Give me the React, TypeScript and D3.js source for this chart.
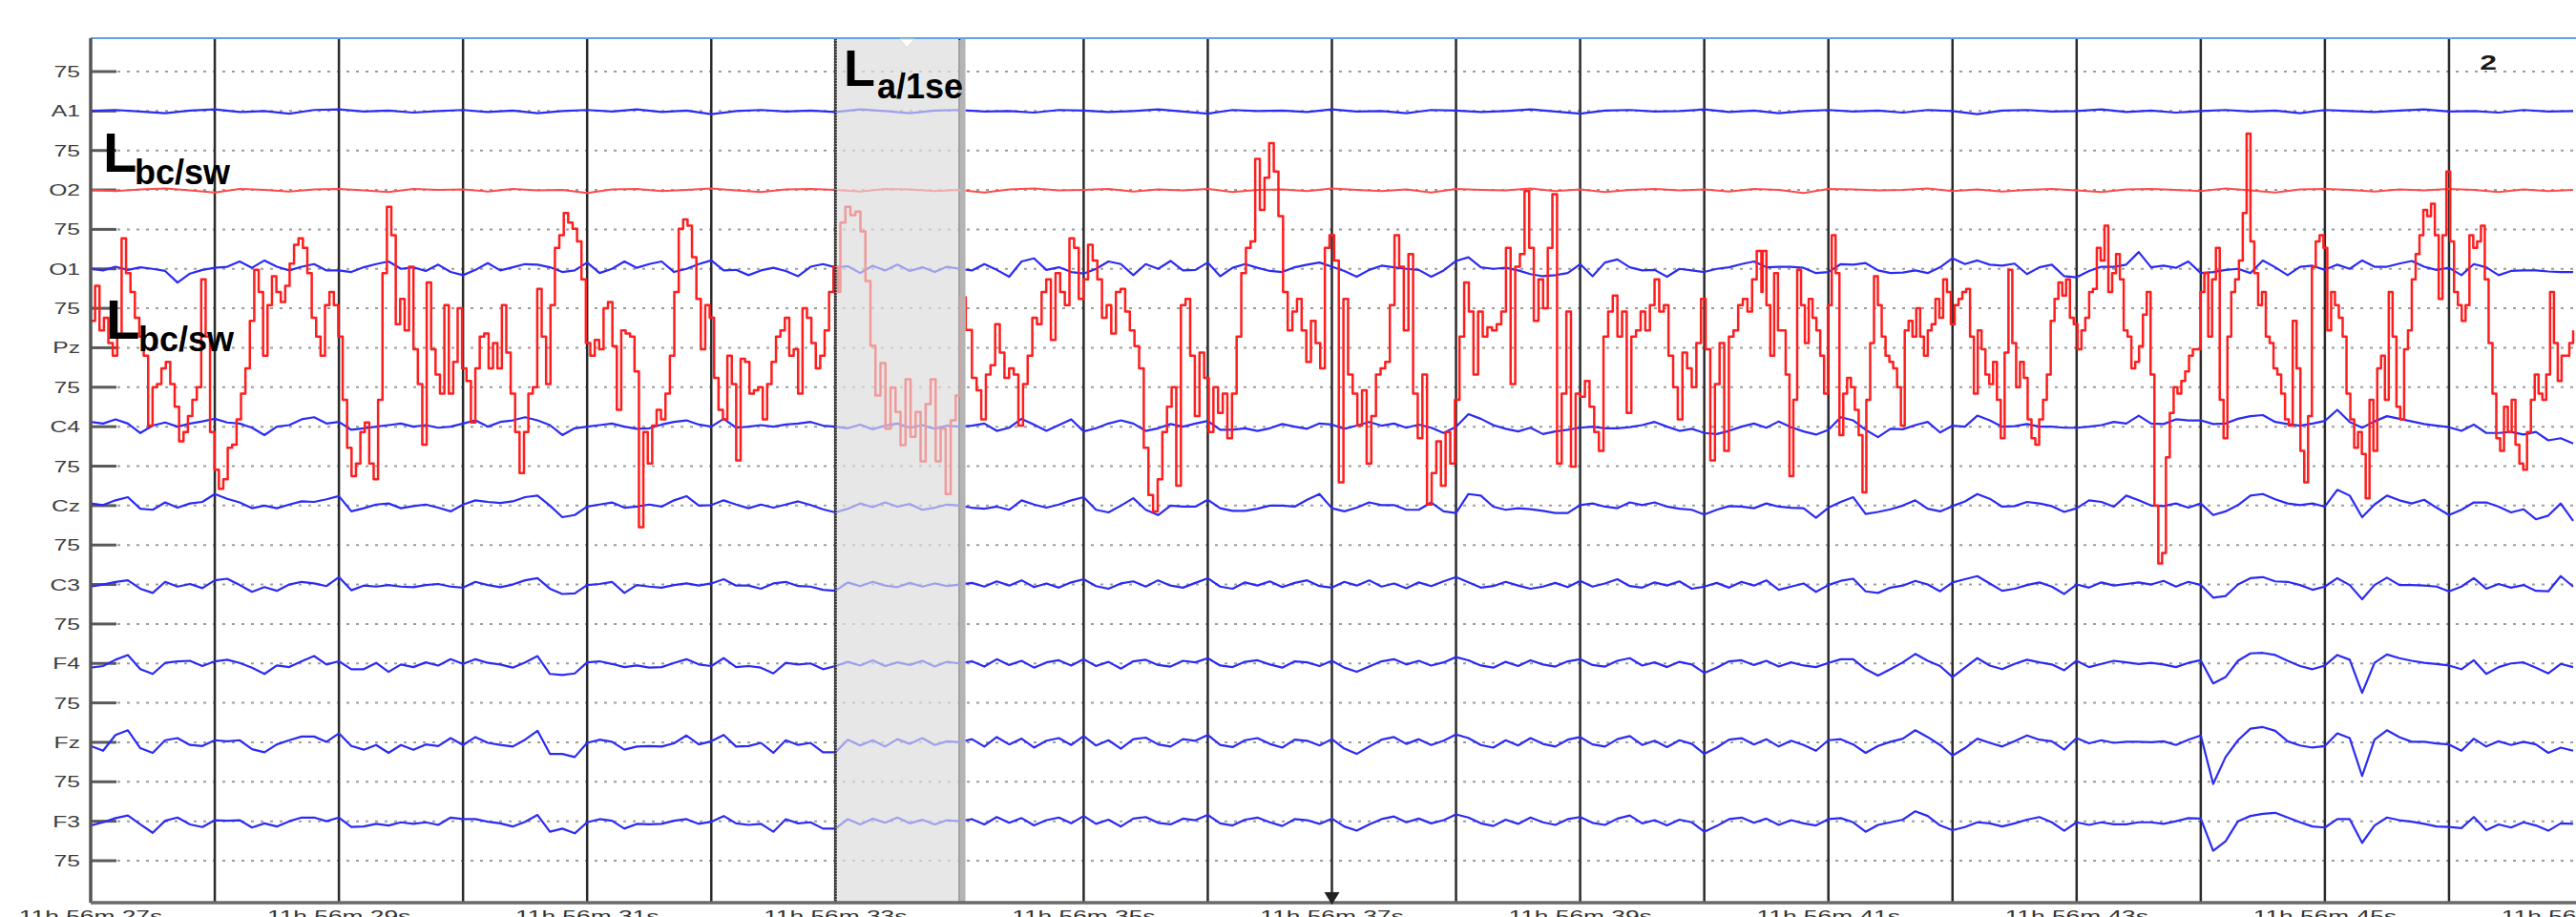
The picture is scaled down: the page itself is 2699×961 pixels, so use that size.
import React, { useRef, useEffect } from "react";
import * as d3 from "d3";

// montage rows, top to bottom (every other row is the 75 uV scale mark)
const rowLabels = ["75", "A1", "75", "O2", "75", "O1", "75", "Pz", "75", "C4", "75", "Cz", "75", "C3", "75", "F4", "75", "Fz", "75", "F3", "75"];
const timeLabels = [27, 29, 31, 33, 35, 37, 39, 41, 43, 45, 47];
const secondMarks = [28, 29, 30, 31, 32, 33, 34, 35, 36, 37, 38, 39, 40, 41, 42, 43, 44, 45, 46];
const artefactSpan = [33, 34.05];

// low gain reference channels, 5 samples / s from 27 s
const a1 = [0, 2, -1, -4, 1, 3, -2, 0, -5, 2, 3, -1, 1, -3, 0, 2, -2, 1, -4, 0, 2, -1, 3, -2, 1, -6, 0, 2, -1, 1, -2, 3, 0, -4, 1, 2, -1, 0, -3, 2, 1, -2, 0, 3, -1, -5, 2, 0, 1, -2, 3, -1, 0, -4, 2, 1, -2, 0, 3, -1, -5, 1, 2, -1, 0, 3, -2, 1, -4, 0, 2, -1, 1, -3, 2, 0, -6, 1, 2, -1, 0, 3, -2, 1, -3, 0, 2, -1, 1, -4, 2, 0, -2, 1, 3, -1, 0, -3, 2, -1, 0];
const o2 = [0, -2, 1, 3, -1, -5, 2, 0, -3, 1, 2, -1, -4, 2, 0, 1, -3, 2, -1, 0, -6, 1, 2, -2, 0, 3, -1, -4, 1, 2, 0, -3, 2, 1, -2, 0, -5, 1, 3, -1, 0, 2, -3, 1, -1, 2, -4, 0, 1, -2, 3, 0, -2, 1, -5, 2, 0, -1, 3, -2, 1, -4, 0, 2, -1, 1, -3, 2, 0, -6, 2, 1, -1, 0, 3, -2, 1, -3, 0, 2, -1, -4, 1, 2, 0, -2, 3, -1, -5, 1, 2, 0, -3, 1, -1, 2, 0, -4, 1, -2, 0];

// 10 samples / s from 27 s, uV
const o1 = [
  0, -3, 4, -2, 3, 0, -4, -26, -9, -2, 2, 4, 14, 2, 16, 4, -3, 4, 9, -3,
  -3, -6, 3, 9, 14, 0, 3, -4, 8, -6, -12, -2, 11, -3, 3, 9, 8, 3, -6, -3,
  12, -8, 0, 14, 2, 9, 14, -6, 0, 9, 16, -3, -2, -12, -3, 2, -4, -14, 4, 9,
  3, 5, -8, 6, -3, 8, -4, 3, -6, 4, 0, -3, 9, -2, -15, 14, 20, -2, 3, -6,
  -9, 0, 14, 9, -12, 9, 0, 15, -3, -2, 12, -14, 2, 9, 2, -4, -6, 3, 8, 12,
  4, -4, -15, -2, 6, 3, 0, -2, -15, -3, 15, 22, 3, 0, 2, -3, -10, -14, -12, -8,
  9, -14, 12, 18, 3, -3, -2, -15, 0, -3, -6, 0, 3, 9, 14, 3, 4, 4, 2, -8,
  -6, 9, 8, 11, -3, -8, -7, -3, -8, 3, 20, 9, 16, 8, 6, 10, -10, 3, 8, -14,
  -16, -4, 4, 4, 8, 32, 3, 6, 2, 14, -8, -6, -2, 0, -8, 16, 3, -12, 4, 6,
  -2, 8, 0, 16, 4, 4, 10, 15, 4, -2, 2, -12, 9, 3, -12, -4, -3, -3, -5, -6, -6];
const c4 = [
  9, 6, 14, 6, -12, 2, 8, 0, 6, 10, 15, 8, 6, -2, -16, 0, 3, 14, 18, 6,
  9, -6, -3, 0, 3, 6, 0, 3, -2, 0, 6, 12, 0, 9, 12, 18, 12, 3, -16, -3,
  0, 3, 6, 0, -4, -3, 4, 9, 12, 4, 0, 15, -2, 0, 3, 0, 4, 6, 9, 2,
  0, -3, 4, -5, 2, 6, -2, 3, -4, 2, 0, 2, 6, -8, -2, 15, 4, -8, 3, 14,
  -9, -3, 6, 12, 6, -8, -3, 5, 0, 6, 11, -6, -6, -3, -8, -3, 5, 0, -4, 6,
  4, -4, 2, 9, 2, 6, -2, 4, -2, -12, 0, 24, 15, 3, -4, -9, -2, -14, -9, -6,
  -2, 0, -3, -3, -1, 3, 9, 0, -8, -4, -12, -14, -8, 0, 6, -2, 10, -1, -9, -15,
  -6, 18, 12, -6, -20, -4, -5, 3, 9, -11, 2, 0, 21, 12, 0, 1, 5, 0, 0, -2,
  -2, 0, 3, 9, 6, 21, 6, 5, 14, 12, 12, 5, 6, 15, 20, 22, 9, 5, 2, 6,
  11, 32, 9, -2, 10, 20, 15, 10, 5, 2, -1, -8, 4, -12, -12, -10, -15, -10, -26, -22, -32];
const cz = [
  4, 1, 10, 16, -6, -8, 6, -4, 4, 7, 22, 13, 6, -5, 0, -5, 2, 8, 7, 12,
  18, -11, -5, 2, 4, -5, -1, 2, -4, -11, 2, 10, 7, 5, 8, 16, 19, 0, -22, -18,
  -2, 2, 6, -4, -2, 2, -2, 10, 18, 0, 1, 10, 2, -5, 2, -4, 2, 8, 1, -7,
  -13, -6, 4, -3, 6, -2, 3, -8, -4, 2, 0, -4, -6, -2, -8, 10, 2, -4, 2, 10,
  16, -8, -13, 0, 14, -8, -18, 0, -2, -2, 11, -5, -10, -10, -6, 0, 0, -2, 11, 22,
  -5, -11, -4, 6, 1, 1, -8, -8, 6, -11, -14, 22, 19, -2, -8, -5, -7, -10, -14, -14,
  1, 4, -2, -5, 6, 1, 6, -2, -6, -8, -17, -8, -1, -2, -5, 4, -2, -4, -5, -23,
  -4, 7, 16, -16, -12, -7, 0, 10, -6, -11, -1, 8, 22, 13, -2, -1, 7, 4, -1, -12,
  -5, 10, 7, -2, 19, 10, 0, -1, 4, -4, 4, -18, -11, 1, 19, 22, 12, 4, 1, 4,
  -2, 30, 19, -22, 2, 19, 10, 4, 11, -4, -18, -8, 6, 6, -2, -13, -7, -26, -19, 4, -29];
const c3 = [
  -4, 0, 5, 8, -8, -16, 5, -4, 1, -7, 8, 11, -1, -14, -5, -12, 0, 5, 2, -3,
  14, -11, -2, -4, -1, -4, -5, -1, 1, -4, -6, 5, -1, -5, 0, 8, 12, -8, -18, -17,
  -1, 1, 5, -16, -1, -4, -6, -1, 2, -2, 2, 10, -2, -2, -8, 2, 5, -3, -4, -10,
  -12, 4, -3, 5, -2, -5, 3, -4, 2, -3, 0, 3, -4, 6, -2, 8, -5, 2, -6, 4,
  10, -3, -8, 2, 6, -4, 8, -2, -6, 3, 12, -4, -8, 4, -2, 6, -5, 3, 8, -3,
  -6, 5, -2, 8, -4, 2, -7, 4, -3, 6, 14, 4, -6, -3, 5, -2, -8, -4, 3, -5,
  7, -4, 2, 10, -3, -6, 4, -2, 6, -8, -4, 3, -6, 5, -2, 8, -10, -4, 2, -14,
  -1, 7, 11, -13, -16, -6, -2, 7, 0, -13, 4, 10, 16, 2, -12, -8, -1, 4, -4, -18,
  0, -6, 4, -2, 1, 4, 0, 7, -4, 5, -1, -25, -22, 0, 12, 14, 6, 5, -1, -10,
  -4, 12, -1, -28, -1, 13, -1, -1, -2, -4, -13, -4, 12, -8, 1, -6, -1, -12, -13, 16, -4];
const f4 = [
  -8, -5, 7, 16, -11, -20, 1, 4, 5, -5, 4, 7, 1, -8, -20, -4, -7, 4, 14, -2,
  4, -11, -11, 1, -16, -2, -7, 2, -4, 8, -1, 8, 1, -2, -8, 2, 14, -20, -22, -19,
  2, 4, -1, -7, -4, -8, -7, 1, 8, -2, -5, 10, -7, -5, -8, -19, 1, -2, 0, -11,
  -5, 3, -4, 6, -5, 2, -3, 5, -6, 3, 0, 4, -6, 8, -3, 5, -8, 2, 6, -4,
  8, -5, 3, -10, 4, 7, -3, -6, 5, 2, 10, -4, -7, 3, 6, -2, -8, 4, 2, -5,
  5, -8, -16, -6, 4, 8, -2, 5, -4, 2, 12, 6, -4, -8, 3, -5, 6, -2, -6, 4,
  8, -3, -6, 5, 10, -4, 2, -7, 3, -2, -18, -8, 4, 6, -3, 5, -6, 2, -4, -7,
  1, 8, 8, -11, -23, -11, 2, 18, 5, -5, -26, -8, 10, -4, -11, -1, 7, 2, -2, -13,
  5, -7, -1, 5, 2, -1, 1, -2, -7, 1, 6, -38, -26, 5, 19, 20, 16, 5, -5, -11,
  -4, 16, 7, -56, 1, 17, 10, 5, 1, -1, -4, -11, 6, -20, -7, 0, 2, -8, -19, -1, -7];
const fz = [
  -7, -16, 14, 23, -11, -20, 4, 8, -5, -7, 4, 2, 4, -13, -19, -4, 4, 11, 11, 1,
  17, -7, -14, -5, -20, -5, -14, -4, -7, 8, -5, 10, -1, -5, -8, 5, 22, -22, -22, -28,
  -1, 5, 1, -14, -8, -7, -8, -2, 13, -4, 2, 14, -8, -7, -1, -20, 4, -5, -1, -19,
  -19, 5, -6, 4, -8, 6, -3, 8, -5, 2, 0, 6, -8, 10, -4, 7, -10, 3, 8, -5,
  12, -6, 4, -12, 6, 9, -4, -8, 6, 3, 14, -5, -9, 4, 8, -3, -10, 5, 3, -6,
  6, -12, -22, -8, 5, 10, -3, 6, -5, 3, 15, 8, -5, -10, 4, -6, 8, -3, -8, 5,
  10, -4, -8, 6, 12, -5, 3, -9, 4, -3, -22, -10, 5, 8, -4, 6, -8, 3, -5, -16,
  4, 6, -4, -20, -7, 1, 7, 23, 10, -5, -25, -11, 7, -1, -8, 2, 13, 5, 2, -14,
  8, -2, 4, -1, 1, 1, 0, 2, -5, 5, 13, -79, -28, 4, 26, 29, 22, 2, -6, -10,
  -7, 17, 8, -64, 5, 23, 10, 1, 1, -2, -4, -16, 7, -8, 2, -5, 1, -4, -20, -10, -16];
const f3 = [
  -8, -2, 6, 11, -6, -22, 1, 7, -6, -11, 2, 1, 2, -12, -4, -10, 0, 7, 7, 0,
  7, -11, -10, -5, -8, -2, -5, -2, -7, 7, 4, 4, -1, -4, -10, -1, 12, -20, -14, -23,
  -2, 4, 1, -14, -5, -6, -5, 1, 4, -5, -1, 10, -4, -7, -5, -20, 4, -4, -2, -14,
  -14, 4, -6, 5, -3, 7, -4, 3, -6, 2, 0, 4, -6, 8, -3, 6, -8, 2, 7, -4,
  10, -5, 3, -10, 5, 8, -3, -6, 5, 2, 12, -4, -8, 3, 7, -2, -9, 4, 2, -5,
  5, -10, -18, -6, 4, 9, -2, 5, -4, 2, 13, 7, -4, -9, 3, -5, 7, -2, -7, 4,
  8, -3, -7, 5, 11, -4, 2, -8, 3, -2, -20, -9, 4, 7, -3, 5, -7, 2, -4, -8,
  4, 6, -2, -20, -7, -2, 3, 19, 10, -8, -17, -11, -2, -4, -10, -4, 3, 8, -2, -18,
  -2, -7, -2, -6, -6, -2, -2, -5, 0, 6, 5, -56, -38, 0, 10, 14, 16, 7, -2, -10,
  -12, 4, 4, -41, -8, 7, 2, -1, -5, -10, -11, -13, 8, -17, -6, -12, -2, -8, -18, -4, -5];

// Pz at high gain, four stretches of evenly spaced samples, uV
const pzSpans = [[27, 33.02], [33.04, 34.05], [34.1, 40.46], [40.47, 47]];
const pzA = [51, 118, 33, 57, 9, -15, 21, 208, 142, 106, 57, 21, -15, -148, -75, -69, -39, -27, -69, -112, -178, -160, -130, -99, -75, 130, 21, -160, -232, -268, -250, -190, -184, -136, -87, -39, 51, 148, 106, -15, 81, 136, 106, 87, 118, 160, 196, 208, 190, 142, 57, 21, -15, 81, 106, 81, 21, -99, -190, -244, -220, -160, -142, -220, -250, -99, 142, 268, 214, 45, 93, 33, 154, -3, -69, -184, 124, -3, -51, -87, 81, -87, -27, 75, -39, -63, -142, -39, 21, 27, -39, 9, -39, 81, -9, -87, -160, -238, -160, -87, -75, 112, 21, -69, 81, 190, 214, 256, 238, 226, 202, 130, 9, -15, 15, -3, 75, 87, 3, -118, 33, 27, 21, -45, -341, -160, -220, -148, -118, -136, -87, -15, 106, 226, 244, 232, 172, 93, -3, 81, 57, -57, -118, -136, -15, -69, -214, -21, -27, -87, -81, -75, -136, -69, -27, 21, 33, 57, -15, -3, -87, 75, 57, 9, -39, -15, 33, 106, 154, 106];
const pzShade = [238, 268, 252, 259, 221, 127, 4, -91, -29, -154, -76, -122, -185, -60, -169, -122, -216, -107, -60, -216, -154, -278, -138, -91, 96, 34];
const pzB = [-57, -81, -136, -51, -33, 45, -9, -57, -39, -51, -148, -69, -15, 57, 45, 106, 130, 15, 142, 106, 81, 208, 190, 93, 130, 196, 166, 130, 57, 81, 27, 106, 112, 69, 33, 3, -39, -190, -280, -311, -250, -160, -112, -75, -262, 81, 93, -15, -130, -9, -57, -160, -75, -124, -87, -172, -87, 21, 142, 190, 202, 359, 262, 323, 389, 335, 250, 106, 33, 69, 93, 33, -27, 51, 9, -39, 190, 214, 166, -256, 93, -51, -87, -148, -81, -220, -130, -51, -39, -27, 81, 214, 154, 33, 178, -87, -172, -51, -298, -238, -178, -262, -160, -220, -99, 21, 124, 69, -51, 69, 21, 39, 33, 45, 69, 190, -69, 154, 178, 298, 190, 51, 130, 75, 190, 292, -220, -87, 69, -226, -87, -93, -63, -112, -160, -196, 21, 69, 99, 21, 69, -124, 21, 33, 69, 33, 81, 130, 69, 81, -15, -75, -136, -9, -39, -75, 9, 93, -3, -214, -69, 9, -196, 21, 33, 81, 93, 69, 130, 184, 106];
const pzC = [184, 81, -15, 142, 33, 33, -51, -244, -99, 148, 81, 9, 93, 57, 33, -15, -87, 81, 214, 142, -166, -87, -57, -75, -118, -166, -275, -99, 9, 136, 81, 21, -15, -27, -39, -75, -148, 33, 51, 21, 75, 21, -15, 33, 45, 93, 57, 130, 106, 45, 81, 93, 106, 112, 21, -87, 33, -3, -51, -69, -27, -99, -172, -9, 148, 9, -75, -27, -57, -136, -172, -184, -136, -99, -51, 51, 93, 124, 99, 130, 57, 45, -3, 33, 57, 106, 112, 190, 166, 232, 106, 142, 178, 130, 33, 21, -39, -27, 3, 63, 106, -51, -300, -410, -390, -208, -124, -75, -87, -63, -45, -15, -3, -3, 106, 142, 21, 130, 190, -99, -172, 21, 106, 130, 166, 256, 407, 202, 142, 81, 106, 21, 9, -39, -51, -87, -136, -148, 51, -39, -196, -256, -130, 154, 202, 214, 190, 33, 106, 81, 57, 21, -87, -136, -190, -160, -202, -286, -99, -196, -39, -15, -99, 106, 21, -112, -136, -3, 33, 130, 178, 214, 262, 250, 274, 214, 93, 214, 335, 202, 106, 81, 51, 81, 214, 190, 202, 232, 130, 9, -87, -172, -196, -112, -160, -99, -184, -220, -232, -160, -99, -51, -87, -99, -51, 106, 9, -63, -15, -15, 9, 33];

const BLUE = "#2b2bf2";
const RED = "#ff1e1e";

function EegPage() {
  const svgRef = useRef<SVGSVGElement>(null);

  useEffect(() => {
    document.body.style.margin = "0";
    const width = 2699, height = 961;
    const top = 40, bottom = 946, left = 95;

    const x = d3.scaleLinear().domain([27, 47]).range([left, 2696]);
    const row = d3.scaleLinear().domain([0, 20]).range([75, 902]);
    const amp = d3.scaleLinear().domain([-75, 75]).range([41.35, -41.35]);

    const svg = d3.select(svgRef.current).attr("width", width).attr("height", height);
    svg.selectAll("*").remove();
    svg.append("rect").attr("width", width).attr("height", height).attr("fill", "#fff");

    const font = "'Liberation Sans', Arial, Helvetica, sans-serif";

    // artefact window background
    svg.append("rect")
      .attr("x", x(artefactSpan[0])).attr("y", top)
      .attr("width", x(artefactSpan[1]) - x(artefactSpan[0])).attr("height", bottom - top)
      .attr("fill", "#e6e6e6");

    // dotted row lines + ticks + labels
    const rows = svg.append("g");
    rowLabels.forEach((lab, k) => {
      const y = row(k);
      rows.append("line").attr("x1", left + 28).attr("x2", width).attr("y1", y).attr("y2", y)
        .attr("stroke", "#9c9c9c").attr("stroke-width", 2).attr("stroke-dasharray", "3,7");
      rows.append("line").attr("x1", left).attr("x2", left + 27).attr("y1", y).attr("y2", y)
        .attr("stroke", "#5a5a5a").attr("stroke-width", 3);
      rows.append("text")
        .attr("transform", `translate(84,${y + 6}) scale(1.45,1)`)
        .attr("text-anchor", "end").attr("font-family", font).attr("font-size", 17)
        .attr("fill", "#3c3c3c").text(lab);
    });

    // one second marks
    svg.append("g").selectAll("line").data(secondMarks).join("line")
      .attr("x1", (d) => x(d)).attr("x2", (d) => x(d)).attr("y1", top).attr("y2", bottom)
      .attr("stroke", "#2a2a2a").attr("stroke-width", 2.5);

    const traces = svg.append("g").attr("fill", "none").attr("stroke-linejoin", "round");

    const channels = [
      { name: "A1", rate: 5, values: a1, color: BLUE, w: 2.2 },
      { name: "O2", rate: 5, values: o2, color: "#ff4a4a", w: 2 },
      { name: "O1", rate: 10, values: o1, color: BLUE, w: 2.2 },
      { name: "C4", rate: 10, values: c4, color: BLUE, w: 2.2 },
      { name: "Cz", rate: 10, values: cz, color: BLUE, w: 2.2 },
      { name: "C3", rate: 10, values: c3, color: BLUE, w: 2.2 },
      { name: "F4", rate: 10, values: f4, color: BLUE, w: 2.2 },
      { name: "Fz", rate: 10, values: fz, color: BLUE, w: 2.2 },
      { name: "F3", rate: 10, values: f3, color: BLUE, w: 2.2 },
    ];
    channels.forEach((ch) => {
      const base = row(rowLabels.indexOf(ch.name));
      const line = d3.line<number>()
        .x((_, i) => x(27 + i / ch.rate))
        .y((d) => base + amp(d));
      traces.append("path").attr("d", line(ch.values)).attr("stroke", ch.color).attr("stroke-width", ch.w);
    });

    // Pz, stitched from its spans
    const pzBase = row(rowLabels.indexOf("Pz"));
    const pzPts: [number, number][] = [];
    [pzA, pzShade, pzB, pzC].forEach((vals, s) => {
      const t = d3.scaleLinear().domain([0, vals.length - 1]).range(pzSpans[s]);
      vals.forEach((v, i) => pzPts.push([t(i), v]));
    });
    const pzLine = d3.line<[number, number]>()
      .x((d) => x(d[0])).y((d) => pzBase + amp(d[1])).curve(d3.curveStepAfter);
    traces.append("path").attr("d", pzLine(pzPts)).attr("stroke", RED).attr("stroke-width", 2.5);

    // fade the artefact window
    svg.append("rect")
      .attr("x", x(artefactSpan[0])).attr("y", top + 2)
      .attr("width", x(artefactSpan[1]) - x(artefactSpan[0])).attr("height", bottom - top - 2)
      .attr("fill", "#e6e6e6").attr("opacity", 0.62);
    svg.append("line")
      .attr("x1", x(artefactSpan[1]) - 3).attr("x2", x(artefactSpan[1]) - 3).attr("y1", top).attr("y2", bottom)
      .attr("stroke", "#b4b4b4").attr("stroke-width", 5);
    svg.append("line")
      .attr("x1", x(artefactSpan[0])).attr("x2", x(artefactSpan[0])).attr("y1", top).attr("y2", bottom)
      .attr("stroke", "#3a3a3a").attr("stroke-width", 3).attr("stroke-dasharray", "2,1");

    // frame
    svg.append("line").attr("x1", left).attr("x2", width).attr("y1", top).attr("y2", top)
      .attr("stroke", "#5ea3e8").attr("stroke-width", 2);
    svg.append("line").attr("x1", left).attr("x2", left).attr("y1", top).attr("y2", bottom)
      .attr("stroke", "#555").attr("stroke-width", 3.5);
    svg.append("line").attr("x1", left).attr("x2", width).attr("y1", bottom).attr("y2", bottom)
      .attr("stroke", "#6a6a6a").attr("stroke-width", 3.5);

    // markers
    const wx = x(artefactSpan[0]) + 75;
    svg.append("path").attr("d", `M${wx - 8},${top + 1}L${wx + 8},${top + 1}L${wx},${top + 10}Z`)
      .attr("fill", "#fff").attr("stroke", "#d8d8d8");
    const bx = x(37);
    svg.append("path").attr("d", `M${bx - 8},${bottom - 11}L${bx + 8},${bottom - 11}L${bx},${bottom + 2}Z`)
      .attr("fill", "#222");

    // time labels (cut by the page edge, as in the source)
    svg.append("g").selectAll("text").data(timeLabels).join("text")
      .attr("transform", (d) => `translate(${x(d)},966) scale(1.55,1)`)
      .attr("text-anchor", "middle").attr("font-family", font).attr("font-size", 17)
      .attr("fill", "#333").text((d) => `11h 56m ${d}s`);

    svg.append("text").attr("transform", `translate(2607,73) scale(1.45,1)`)
      .attr("text-anchor", "middle").attr("font-family", font).attr("font-size", 22)
      .attr("font-weight", "bold").attr("fill", "#1a1a1a").text("2");

    // annotations
    const note = (lx: number, ly: number, lsize: number, sub: string, sx: number, sy: number, ssize: number) => {
      const g = svg.append("g").attr("font-family", font).attr("font-weight", "bold").attr("fill", "#000");
      g.append("text").attr("x", lx).attr("y", ly).attr("font-size", lsize).text("L");
      g.append("text").attr("x", sx).attr("y", sy).attr("font-size", ssize).text(sub);
    };
    note(108, 180, 58, "bc/sw", 141, 193, 36);
    note(111, 355, 58, "bc/sw", 145, 368, 36);
    note(884, 90, 54, "a/1se", 919, 103, 36);
  }, []);

  return <svg ref={svgRef} style={{ display: "block" }}></svg>;
}

export default function App() {
  return <EegPage />;
}
